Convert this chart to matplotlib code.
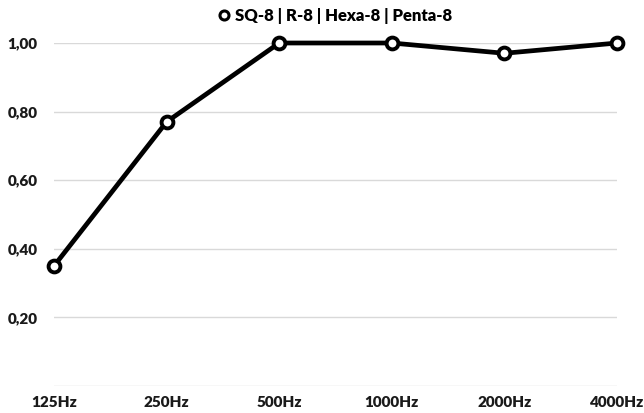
import matplotlib.pyplot as plt
from matplotlib.ticker import FuncFormatter

# data
freqs = ["125Hz", "250Hz", "500Hz", "1000Hz", "2000Hz", "4000Hz"]
absorption = [0.35, 0.77, 1.00, 1.00, 0.97, 1.00]
series_name = "SQ-8 | R-8 | Hexa-8 | Penta-8"

plt.rcParams['font.family'] = ['Lato', 'DejaVu Sans']

fig = plt.figure(figsize=(6.44, 4.13), dpi=100)
ax = fig.add_axes([54 / 644, 1 - 386 / 413, (617 - 54) / 644, (386 - 43) / 413])

x = list(range(len(freqs)))
ax.plot(x, absorption, color='black', linewidth=3.4, marker='o', markersize=8.5,
        markerfacecolor='white', markeredgecolor='black', markeredgewidth=2.8,
        clip_on=False, zorder=3, label=series_name)

ax.set_xlim(0, len(freqs) - 1)
ax.set_ylim(0, 1.0)
ax.set_yticks([0.2, 0.4, 0.6, 0.8, 1.0])
ax.yaxis.set_major_formatter(FuncFormatter(lambda v, p: f"{v:.2f}".replace('.', ',')))
ax.set_xticks(x)
ax.set_xticklabels(freqs)

for y in [0.0, 0.2, 0.4, 0.6, 0.8, 1.0]:
    ax.axhline(y, color='#d9d9d9', linewidth=1, zorder=1)

for s in ax.spines.values():
    s.set_visible(False)
ax.tick_params(length=0, labelsize=11)
ax.tick_params(axis='y', pad=12)
ax.tick_params(axis='x', pad=7)
for lab in ax.get_xticklabels() + ax.get_yticklabels():
    lab.set_fontweight('heavy')
    lab.set_color('#1a1a1a')

leg = ax.legend(loc='upper center', bbox_to_anchor=(0.5, 1.145), frameon=False,
                handlelength=0.6, handletextpad=0.4,
                prop={'weight': 'heavy', 'size': 12})
leg.get_lines()[0].set_linewidth(0)
leg.get_lines()[0].set_markersize(6.5)
leg.get_lines()[0].set_markeredgewidth(2.2)

fig.savefig("out.png", dpi=100)
